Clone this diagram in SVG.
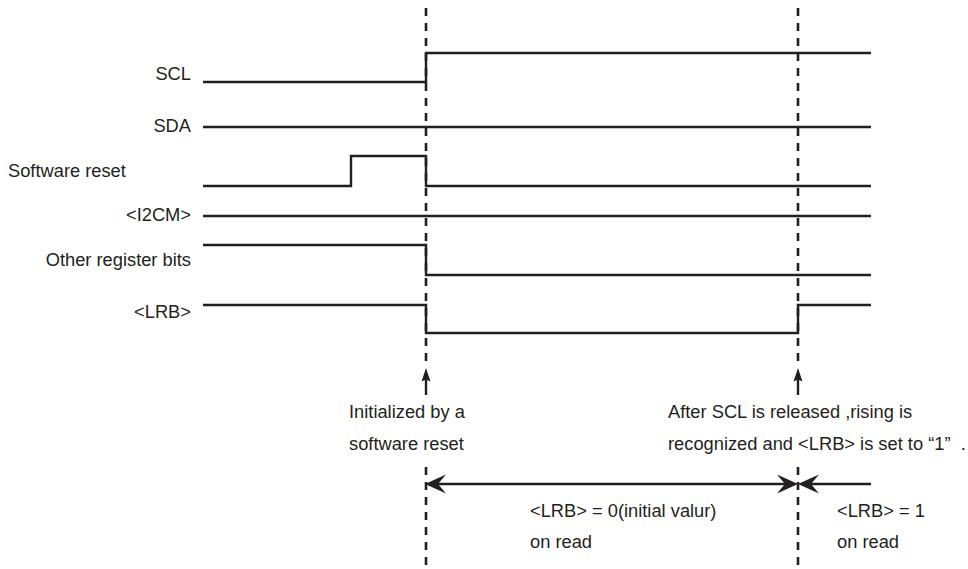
<svg xmlns="http://www.w3.org/2000/svg" width="968" height="569" viewBox="0 0 968 569">
<style>
text{font-family:"Liberation Sans",Arial,sans-serif;font-size:18.3px;fill:#231f20}
.r{text-anchor:end}
.sig{fill:none;stroke:#231f20;stroke-width:2.4}
.dash{fill:none;stroke:#231f20;stroke-width:2.6;stroke-dasharray:8 7}
.ln{fill:none;stroke:#231f20;stroke-width:2.4}
.ah{fill:#231f20}
</style>
<rect width="968" height="569" fill="#fff"/>
<g id="labels">
<text class="r" x="191" y="80">SCL</text>
<text class="r" x="191" y="132">SDA</text>
<text x="8" y="177">Software reset</text>
<text class="r" x="191" y="221">&lt;I2CM&gt;</text>
<text class="r" x="191" y="266">Other register bits</text>
<text class="r" x="191" y="318">&lt;LRB&gt;</text>
</g>
<g id="signals">
<path id="scl" class="sig" d="M203,82 H426 V53 H871"/>
<path id="sda" class="sig" d="M203,127 H871"/>
<path id="swreset" class="sig" d="M203,186 H351 V156 H426 V186 H871"/>
<path id="i2cm" class="sig" d="M203,216 H871"/>
<path id="other" class="sig" d="M203,245 H426 V275 H871"/>
<path id="lrb" class="sig" d="M203,305 H426 V333 H798 V305 H871"/>
</g>
<g id="connectors">
<path class="dash" d="M426,8 V366 M426,467 V569"/>
<path class="dash" d="M798,8 V366 M798,467 V569"/>
<path class="ln" d="M426,379 V395"/>
<polygon class="ah" points="426,368 421.5,381.5 426,379.5 430.5,381.5"/>
<path class="ln" d="M798,379 V395"/>
<polygon class="ah" points="798,368 793.5,381.5 798,379.5 802.5,381.5"/>
<path class="ln" d="M436,484 H788 M808,484 H871"/>
<polygon class="ah" points="425,484 446,474.5 438,484 446,493.5"/>
<polygon class="ah" points="798,484 777,474.5 785,484 777,493.5"/>
<polygon class="ah" points="798,484 819,474.5 811,484 819,493.5"/>
</g>
<g id="notes">
<text x="349" y="418">Initialized by a</text>
<text x="349" y="450">software reset</text>
<text x="668" y="418">After SCL is released ,rising is</text>
<text x="668" y="450">recognized and &lt;LRB&gt; is set to “1”&#160;&#160;.</text>
<text x="530" y="517">&lt;LRB&gt; = 0(initial valur)</text>
<text x="530" y="548">on read</text>
<text x="837" y="517">&lt;LRB&gt; = 1</text>
<text x="837" y="548">on read</text>
</g>
</svg>
